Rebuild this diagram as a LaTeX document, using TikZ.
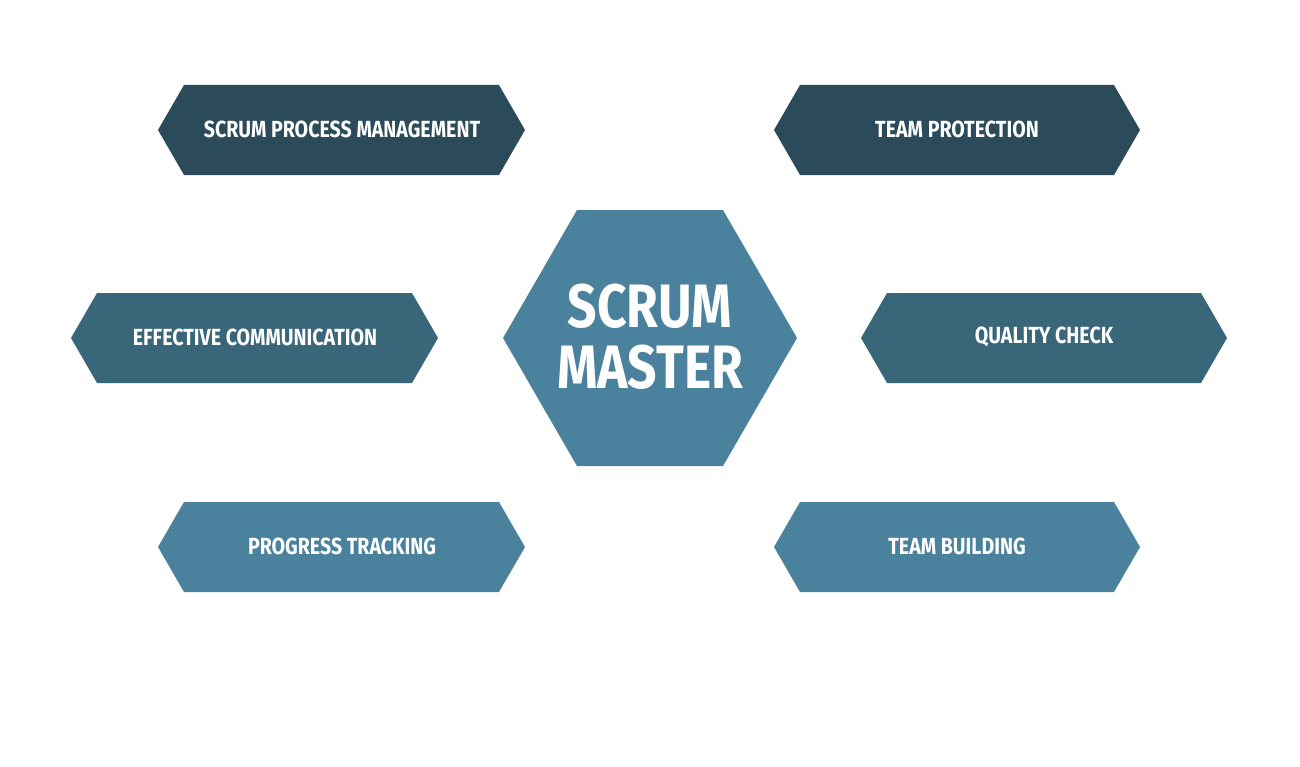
\documentclass[tikz,border=0pt]{standalone}
\usepackage{fontspec}
\setmainfont{Fira Sans}[UprightFont=* SemiBold, BoldFont=* Bold, FakeStretch=0.84]
\definecolor{cdark}{HTML}{2B4A5A}
\definecolor{cmid}{HTML}{3A6679}
\definecolor{clight}{HTML}{4A819D}
\begin{document}
\begin{tikzpicture}[x=0.75pt,y=-0.75pt,
  lbl/.style={text=white,font=\bfseries\fontsize{17.5}{19}\selectfont}]
\useasboundingbox (0,0) rectangle (1300,767);
\newcommand\hexbar[4]{% x1 x2 yc color
  \fill[#4] (#1,#3) -- (#1+26,#3-45) -- (#2-26,#3-45) -- (#2,#3) -- (#2-26,#3+45) -- (#1+26,#3+45) -- cycle;}
\hexbar{158}{525}{130}{cdark}
\hexbar{774}{1140}{130}{cdark}
\hexbar{71}{438}{338}{cmid}
\hexbar{861}{1227}{338}{cmid}
\hexbar{158}{525}{547}{clight}
\hexbar{774}{1140}{547}{clight}
\fill[clight] (503,338) -- (577,210) -- (723,210) -- (797,338) -- (723,466) -- (577,466) -- cycle;
\node[lbl] (a) at (342,129) {SCRUM PROCESS MANAGEMENT};
\node[lbl] (b) at (957,129) {TEAM PROTECTION};
\node[lbl] (c) at (255,337) {EFFECTIVE COMMUNICATION};
\node[lbl] (d) at (1044,337) {QUALITY CHECK};
\node[lbl] (e) at (342,546) {PROGRESS TRACKING};
\node[lbl] (f) at (957,546) {TEAM BUILDING};
\node[text=white,font=\bfseries\fontsize{46}{46}\selectfont,align=center] (m) at (650,337) {SCRUM\\MASTER};
\end{tikzpicture}
\end{document}
